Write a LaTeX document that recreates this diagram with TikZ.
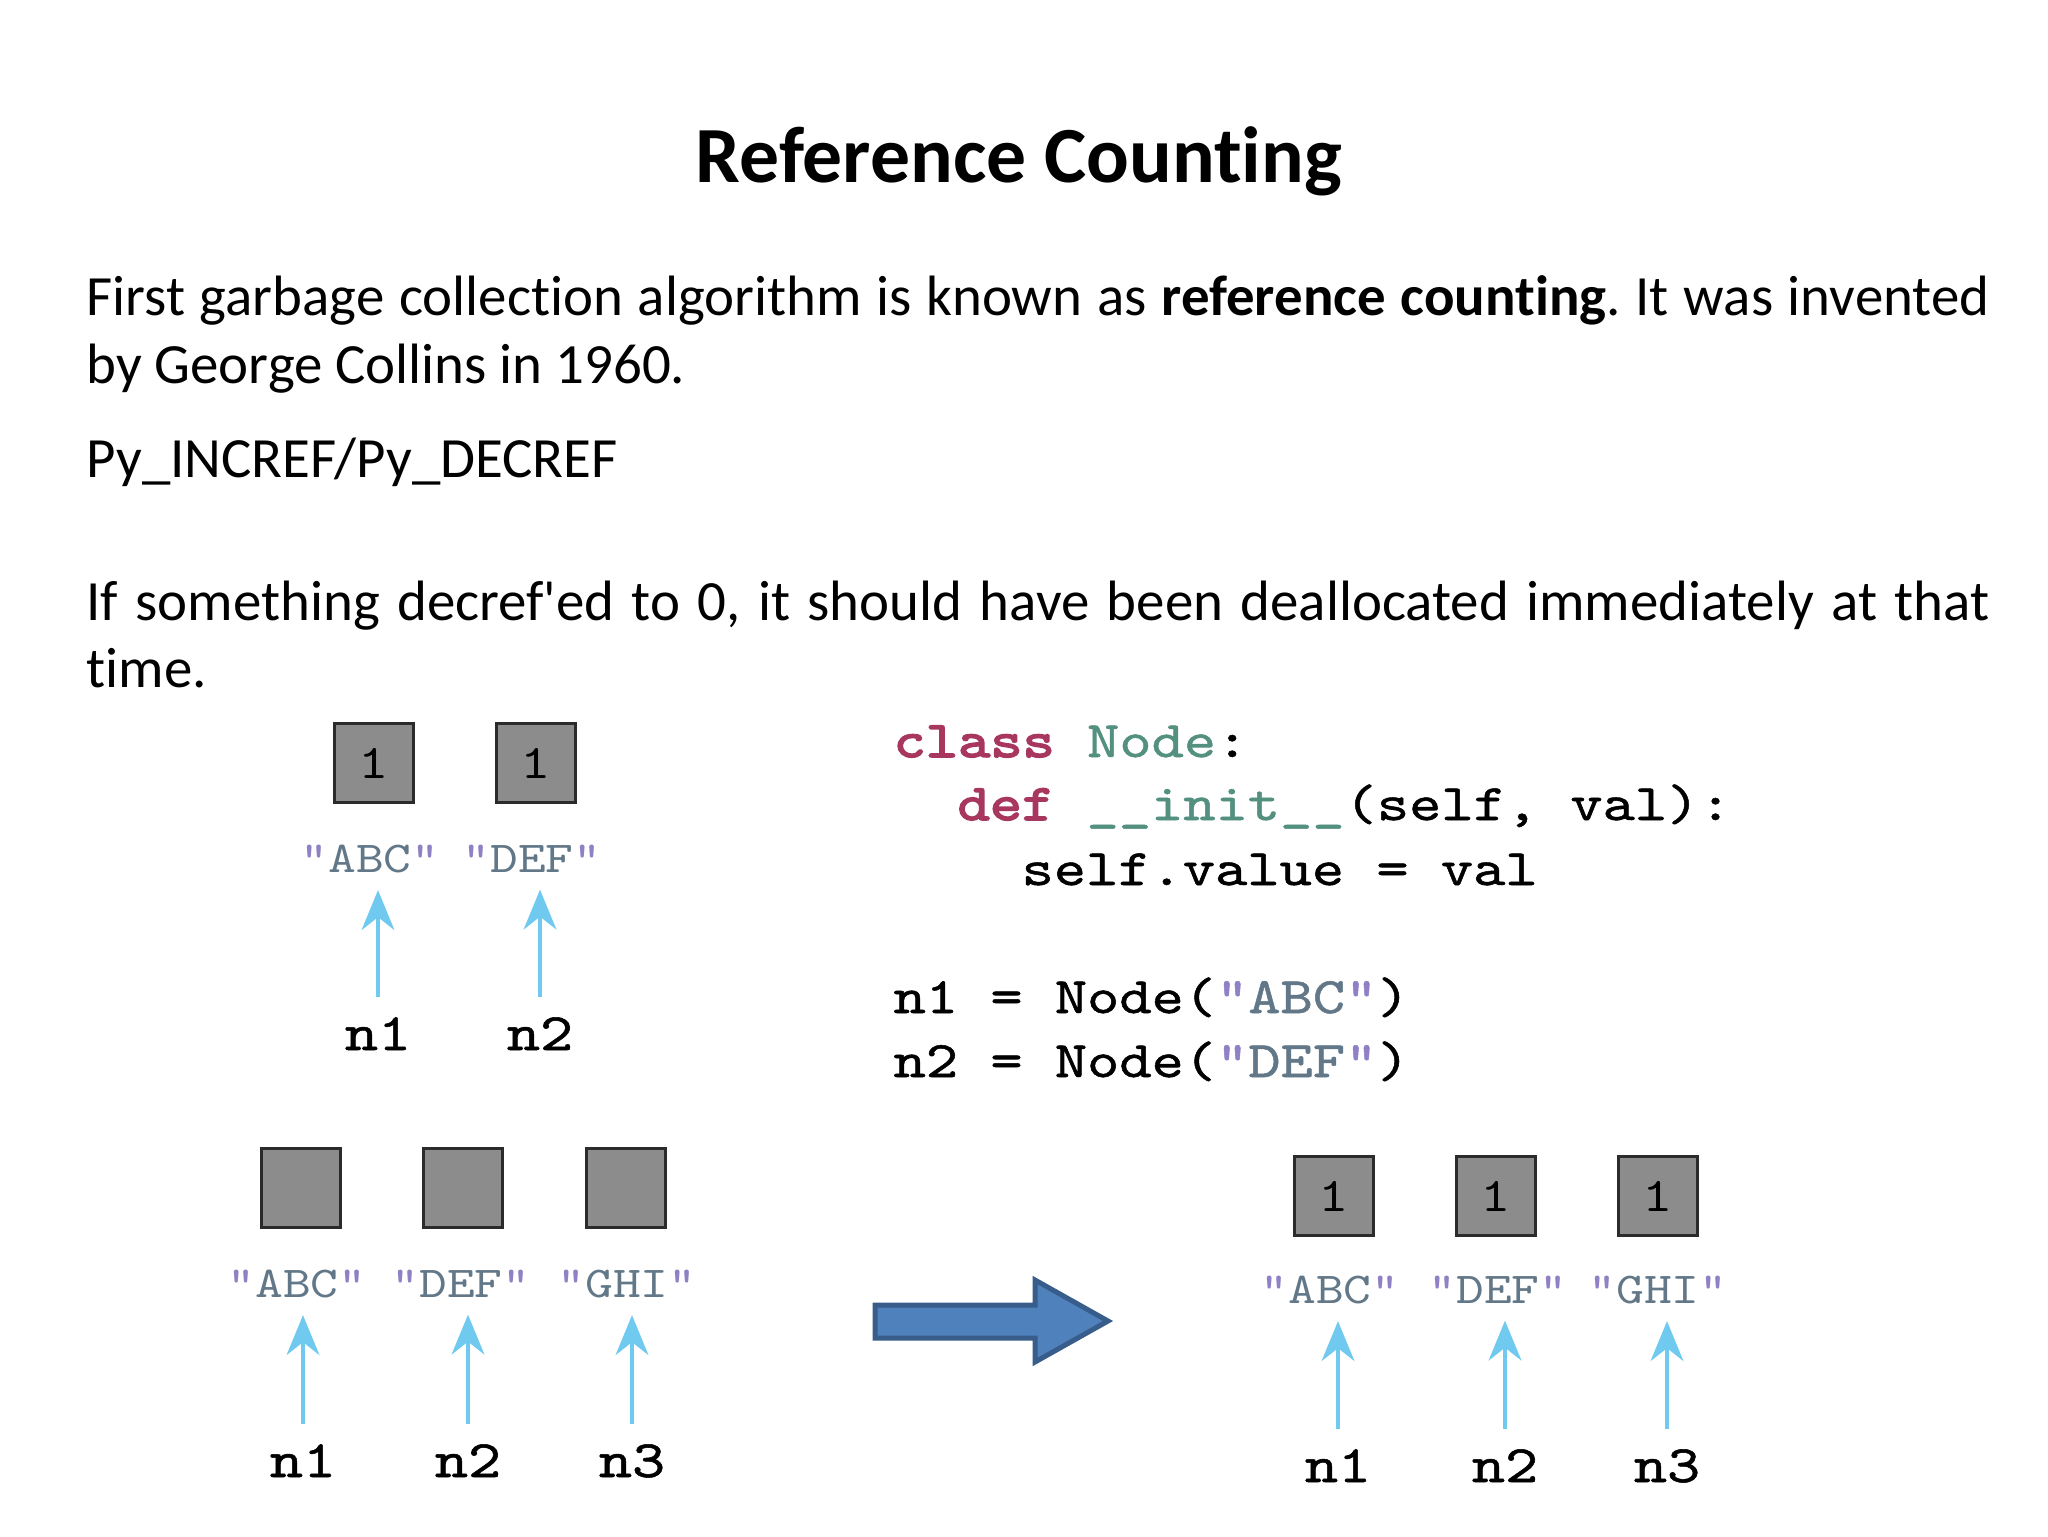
\documentclass[tikz,border=0pt]{standalone}
\usepackage{fontspec}
\setmainfont{Carlito}[Ligatures={TeXOff,CommonOff}]
\newfontfamily\cfont{lmmono10-regular.otf}[FakeStretch=1.2]
\newfontfamily\cfontm{lmmono10-regular.otf}[FakeStretch=1.2,FakeBold=1]
\newfontfamily\cfontb{lmmono10-regular.otf}[FakeStretch=1.2,FakeBold=3]
\usetikzlibrary{arrows.meta}
\frenchspacing
\definecolor{boxgray}{HTML}{8C8C8C}
\definecolor{boxline}{HTML}{2B2B2B}
\definecolor{ptrblue}{HTML}{70CAF0}
\definecolor{kw}{HTML}{A8375F}
\definecolor{tl}{HTML}{53907F}
\definecolor{st}{HTML}{627888}
\definecolor{qt}{HTML}{9080C4}
\definecolor{arrfill}{HTML}{4F81BD}
\definecolor{arrline}{HTML}{385D8A}
\newcommand\qstr[1]{{\color{qt}"}{\color{st}#1}{\color{qt}"}}
\begin{document}
\begin{tikzpicture}[x=0.3516pt,y=-0.3516pt,
  body/.style={inner sep=0pt, anchor=base west, font=\fontsize{20}{24}\selectfont},
  code/.style={inner sep=0pt, anchor=base west, font=\cfontm\fontsize{18}{20}\selectfont},
  cell/.style={draw=boxline, fill=boxgray, line width=1pt, minimum size=27.5pt, inner sep=0pt, font=\cfont\fontsize{17}{17}\selectfont},
  lab/.style={inner sep=0pt, anchor=base, font=\cfont\fontsize{15.5}{16}\selectfont},
  var/.style={inner sep=0pt, anchor=base, font=\cfontm\fontsize{18.5}{19}\selectfont},
  ptr/.style={draw=ptrblue, line width=1.4pt, shorten <=7pt, shorten >=6pt,
    -{Stealth[length=14pt,width=11.5pt,inset=4.5pt]}},
  bigarrow/.style={fill=arrfill, draw=arrline, line width=1.75pt, line join=miter}
]
\useasboundingbox (0,0) rectangle (2048,1536);

% title and text
\node[anchor=base, inner sep=0pt, font=\bfseries\fontsize{28}{34}\selectfont] (title) at (1019,182) {Reference Counting};
\node[body] (t1) at (86,315) {\makebox[669pt][s]{First garbage collection algorithm is known as \textbf{reference counting}. It was invented}};
\node[body] (t2) at (86,383) {by George Collins in 1960.};
\node[body] (t3) at (86,477) {Py\_INCREF/Py\_DECREF};
\node[body] (t4) at (86,620) {\makebox[669pt][s]{If something decref'ed to 0, it should have been deallocated immediately at that}};
\node[body] (t5) at (86,687) {time.};

% code
\node[code] (c1) at (893,757) {{\cfontb\color{kw}class} {\color{tl}Node}:};
\node[code] (c2) at (957,820) {{\cfontb\color{kw}def} {\color{tl}\_\_init\_\_}(self, val):};
\node[code] (c3) at (1021,885) {self.value = val};
\node[code] (c4) at (893,1013) {n1 = Node(\qstr{ABC})};
\node[code] (c5) at (893,1077) {n2 = Node(\qstr{DEF})};

% top group
\node[cell] (a1) at (374,763) {1};
\node[cell] (a2) at (536,763) {1};
\node[lab] (al1) at (370,872) {\qstr{ABC}};
\node[lab] (al2) at (532,872) {\qstr{DEF}};
\node[var] (av1) at (378,1050) {n1};
\node[var] (av2) at (540,1050) {n2};
\draw[ptr] (av1.north) -- (av1.north |- al1.south);
\draw[ptr] (av2.north) -- (av2.north |- al2.south);

% bottom-left group
\node[cell] (b1) at (301,1188) {};
\node[cell] (b2) at (463,1188) {};
\node[cell] (b3) at (626,1188) {};
\node[lab] (bl1) at (297,1297) {\qstr{ABC}};
\node[lab] (bl2) at (461,1297) {\qstr{DEF}};
\node[lab] (bl3) at (627,1297) {\qstr{GHI}};
\node[var] (bv1) at (303,1477) {n1};
\node[var] (bv2) at (468,1477) {n2};
\node[var] (bv3) at (632,1477) {n3};
\draw[ptr] (bv1.north) -- (bv1.north |- bl1.south);
\draw[ptr] (bv2.north) -- (bv2.north |- bl2.south);
\draw[ptr] (bv3.north) -- (bv3.north |- bl3.south);

% big arrow
\draw[bigarrow] (875,1305) -- (1035,1305) -- (1035,1280) -- (1108,1321)
  -- (1035,1362) -- (1035,1338) -- (875,1338) -- cycle;

% bottom-right group
\node[cell] (r1) at (1334,1196) {1};
\node[cell] (r2) at (1496,1196) {1};
\node[cell] (r3) at (1658,1196) {1};
\node[lab] (rl1) at (1330,1303) {\qstr{ABC}};
\node[lab] (rl2) at (1498,1303) {\qstr{DEF}};
\node[lab] (rl3) at (1658,1303) {\qstr{GHI}};
\node[var] (rv1) at (1338,1482) {n1};
\node[var] (rv2) at (1505,1482) {n2};
\node[var] (rv3) at (1667,1482) {n3};
\draw[ptr] (rv1.north) -- (rv1.north |- rl1.south);
\draw[ptr] (rv2.north) -- (rv2.north |- rl2.south);
\draw[ptr] (rv3.north) -- (rv3.north |- rl3.south);
\end{tikzpicture}
\end{document}
